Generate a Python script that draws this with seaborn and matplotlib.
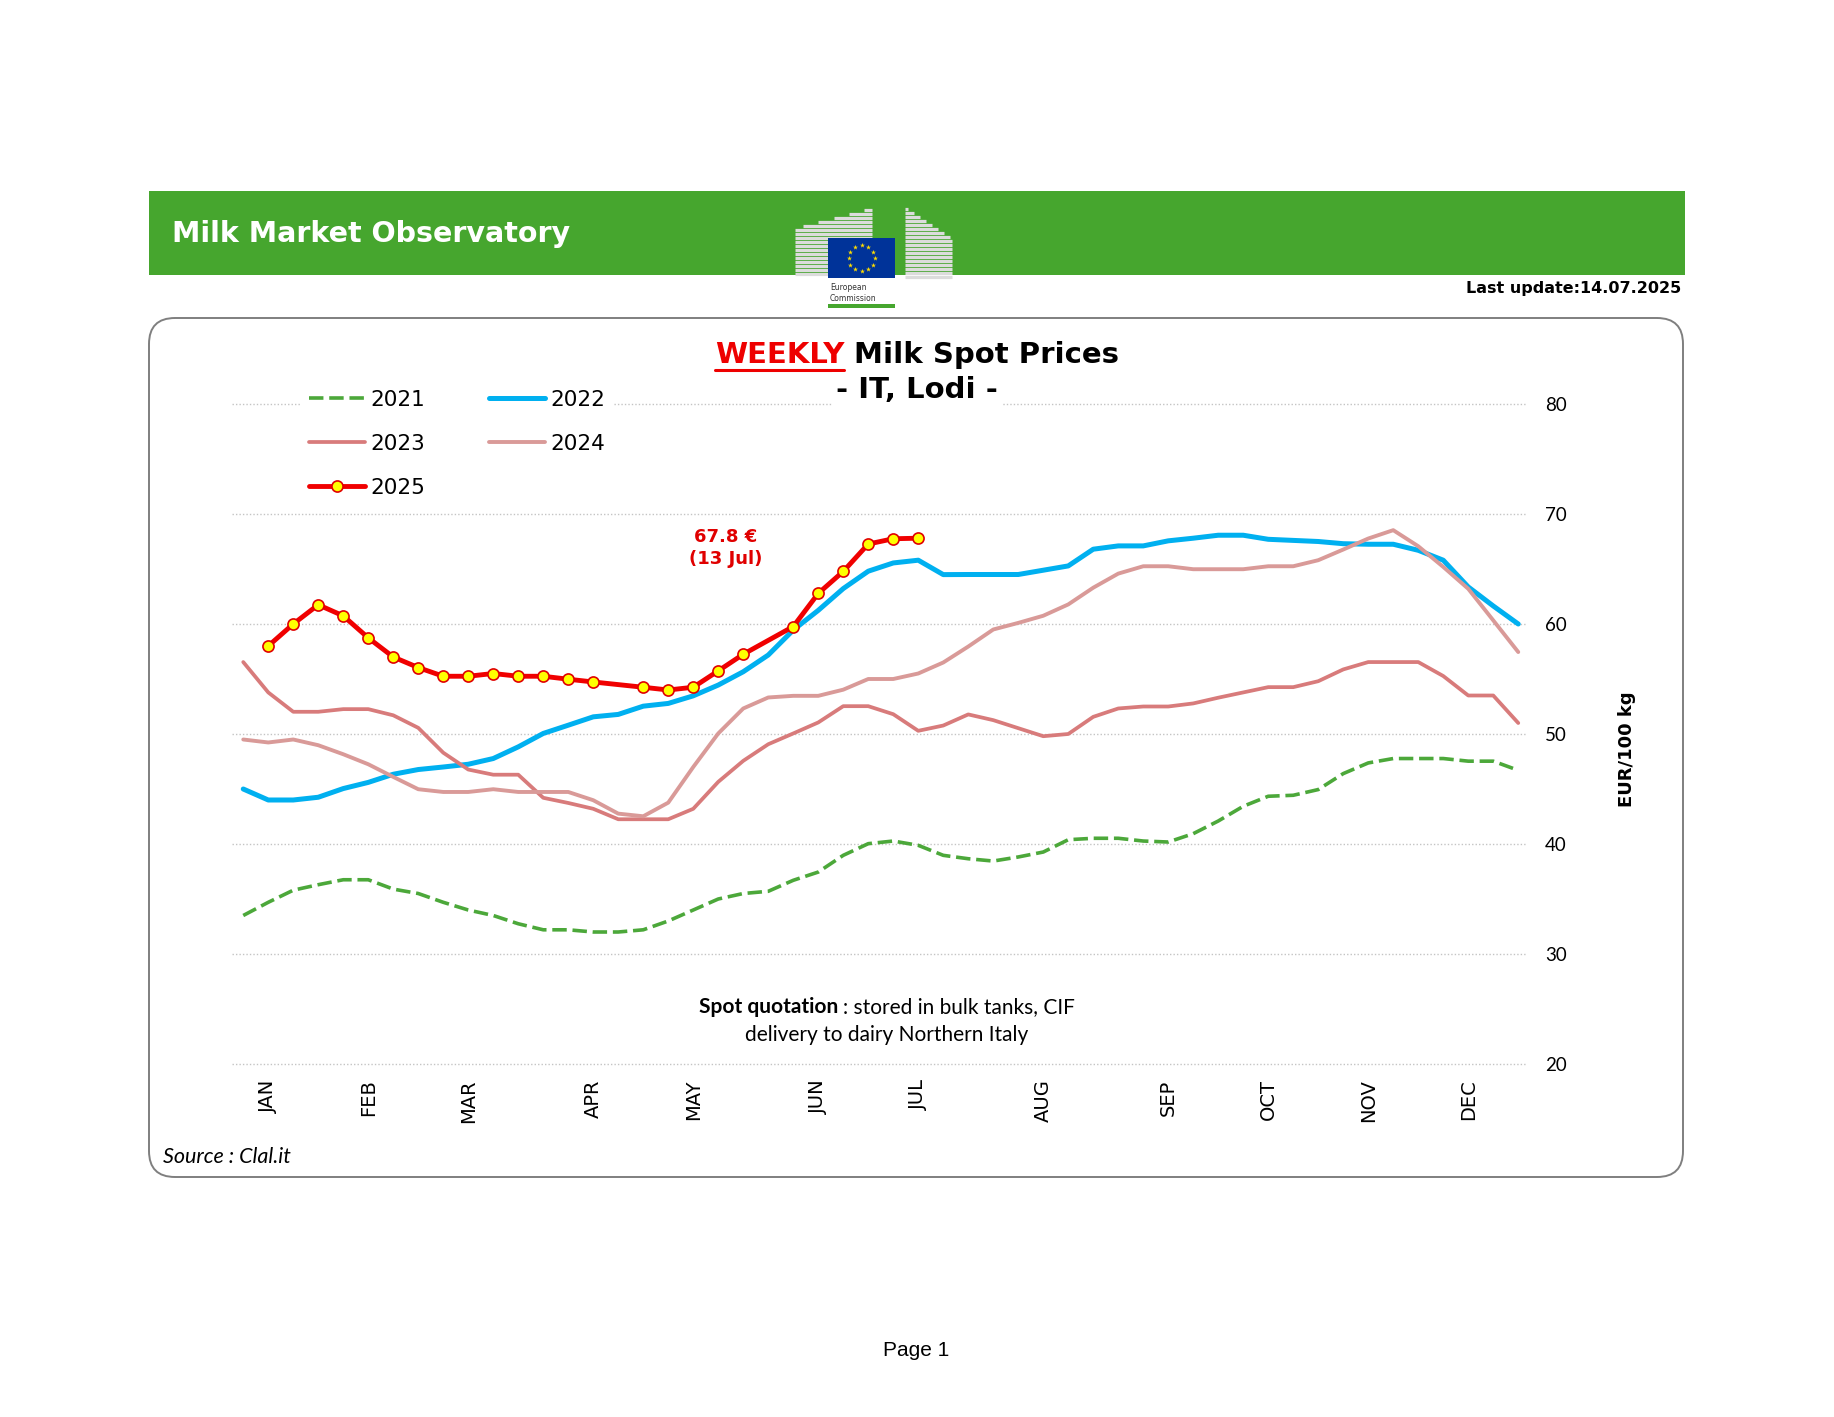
import numpy as np
import pandas as pd
import matplotlib
matplotlib.use("Agg")
import matplotlib.pyplot as plt
import seaborn as sns
from matplotlib.patches import FancyBboxPatch, Rectangle

# ---- data (EUR/100 kg, weekly, week index 0..51) ----
nan = np.nan
weeks = np.arange(52)
months = ['JAN', 'FEB', 'MAR', 'APR', 'MAY', 'JUN', 'JUL', 'AUG', 'SEP', 'OCT', 'NOV', 'DEC']
month_weeks = [1, 5, 9, 14, 18, 23, 27, 32, 37, 41, 45, 49]

p2021 = [33.5, 34.7, 35.8, 36.3, 36.75, 36.75, 35.9, 35.5, 34.7, 34.0, 33.5, 32.75, 32.2,
         32.2, 32.0, 32.0, 32.2, 33.0, 34.0, 35.0, 35.5, 35.7, 36.7, 37.45, 38.97, 40.03,
         40.27, 39.88, 38.97, 38.66, 38.45, 38.82, 39.27, 40.39, 40.52, 40.52, 40.27, 40.18,
         40.94, 42.09, 43.43, 44.34, 44.43, 44.95, 46.4, 47.37, 47.77, 47.77, 47.77, 47.53,
         47.53, 46.7]
p2022 = [45.0, 44.0, 44.0, 44.25, 45.04, 45.6, 46.34, 46.77, 47.0, 47.25, 47.77, 48.83, 50.05,
         50.8, 51.56, 51.78, 52.53, 52.78, 53.47, 54.45, 55.66, 57.18, 59.45, 61.24, 63.22,
         64.8, 65.55, 65.8, 64.49, 64.5, 64.5, 64.5, 64.89, 65.28, 66.8, 67.1, 67.1, 67.56,
         67.8, 68.07, 68.07, 67.7, 67.6, 67.5, 67.3, 67.25, 67.25, 66.7, 65.8, 63.37, 61.64,
         60.0]
p2023 = [56.54, 53.78, 52.02, 52.02, 52.26, 52.26, 51.7, 50.56, 48.3, 46.77, 46.3, 46.3, 44.2,
         43.73, 43.2, 42.25, 42.25, 42.25, 43.2, 45.65, 47.56, 49.07, 50.05, 51.05, 52.53,
         52.53, 51.8, 50.29, 50.77, 51.78, 51.26, 50.53, 49.8, 50.0, 51.56, 52.32, 52.5, 52.5,
         52.78, 53.3, 53.78, 54.26, 54.26, 54.8, 55.87, 56.54, 56.54, 56.54, 55.27, 53.5, 53.5,
         51.0]
p2024 = [49.5, 49.23, 49.5, 48.98, 48.16, 47.25, 46.1, 44.98, 44.73, 44.73, 44.98, 44.73, 44.73,
         44.73, 43.98, 42.76, 42.52, 43.76, 47.0, 50.05, 52.32, 53.32, 53.47, 53.47, 54.03,
         55.0, 55.0, 55.5, 56.5, 57.95, 59.5, 60.1, 60.75, 61.78, 63.3, 64.58, 65.25, 65.25,
         64.98, 64.98, 64.98, 65.25, 65.25, 65.8, 66.77, 67.77, 68.53, 67.07, 65.19, 63.2,
         60.33, 57.45]
p2025 = [nan, 58.0, 60.0, 61.75, 60.74, 58.74, 57.0, 56.04, 55.25, 55.25, 55.5, 55.25, 55.25,
         54.98, 54.73, nan, 54.25, 54.0, 54.25, 55.74, 57.25, nan, 59.77, 62.78, 64.78, 67.27,
         67.75, 67.8] + [nan] * 24

GREEN = '#46A62E'
W, H = 1834, 1417

sns.set_style("white")
plt.rcParams['font.family'] = ['DejaVu Sans']
plt.rcParams['text.color'] = 'black'
plt.rcParams['xtick.color'] = 'black'
plt.rcParams['ytick.color'] = 'black'

fig = plt.figure(figsize=(W / 100, H / 100), dpi=100)
fig.patch.set_facecolor('white')

# background layer in pixel coordinates
bg = fig.add_axes([0, 0, 1, 1], label='bg', zorder=0)
bg.set_xlim(0, W)
bg.set_ylim(H, 0)
bg.axis('off')

bg.add_patch(Rectangle((149, 191), 1536, 84, color=GREEN, lw=0))
bg.text(172, 234, 'Milk Market Observatory', color='white', fontsize=20.5,
        fontweight='bold', va='center', ha='left')
bg.text(1681, 288, 'Last update:14.07.2025', color='black', fontsize=11.5,
        fontweight='bold', va='center', ha='right')

# EC logo (simplified)
for y in np.arange(210, 278, 4):
    x0 = 795 if y >= 228 else 795 + (228 - y) / 20 * 77
    bg.plot([x0, 872], [y, y], color='#dcdcdc', lw=2.3, solid_capstyle='butt')
for y in np.arange(209, 278, 4):
    x1 = 905 + min(1, (y - 207) / 31) * 47
    bg.plot([905, x1], [y, y], color='#dcdcdc', lw=2.3, solid_capstyle='butt')
bg.add_patch(Rectangle((828, 238), 67, 40, color='#003399', lw=0, zorder=3))
ang = np.linspace(0, 2 * np.pi, 13)[:-1]
bg.scatter(861.5 + 13 * np.cos(ang), 258 + 13 * np.sin(ang), marker='*', s=14,
           color='#FFDD00', lw=0, zorder=4)
bg.text(830, 283, 'European\nCommission', fontsize=5.5, color='#333333', va='top',
        ha='left', linespacing=1.3)
bg.add_patch(Rectangle((828, 304), 67, 4, color=GREEN, lw=0))

# rounded chart frame
bg.add_patch(FancyBboxPatch((149, 318), 1534, 859,
                            boxstyle='round,pad=0,rounding_size=26',
                            facecolor='white', edgecolor='#7f7f7f', lw=1.4))

# chart
ax = fig.add_axes([232 / W, 1 - 1064 / H, 1295 / W, 660 / H], label='chart', zorder=1)
ax.set_facecolor('none')

styles = [
    ('2021', p2021, dict(color='#4CA83A', lw=2.6, linestyle=(0, (4, 1.6)))),
    ('2022', p2022, dict(color='#00B0F0', lw=3.6)),
    ('2023', p2023, dict(color='#D87B7B', lw=2.7)),
    ('2024', p2024, dict(color='#D99A98', lw=2.8)),
    ('2025', p2025, dict(color='#F00000', lw=3.5, marker='o', markersize=8,
                         markerfacecolor='#FFFF00', markeredgecolor='#E00000',
                         markeredgewidth=1.2)),
]
for year, vals, kw in styles:
    df = pd.DataFrame({'week': weeks, 'price': vals}).dropna()
    sns.lineplot(data=df, x='week', y='price', ax=ax, label=year, errorbar=None, **kw)

ax.set_xlim(-0.45, 51.35)
ax.set_ylim(20, 80)
ax.set_yticks(range(20, 81, 10))
ax.yaxis.tick_right()
ax.yaxis.grid(True, color='#c4c4c4', linestyle=(0, (1, 1.5)), lw=1)
ax.xaxis.grid(False)
for gl in ax.get_ygridlines():
    gl.set_clip_on(False)
ax.set_xticks(month_weeks)
ax.set_xticklabels(months, rotation=90, fontsize=14)
ax.tick_params(axis='x', length=0, pad=11)
ax.tick_params(axis='y', length=0, pad=13, labelsize=13.5)
for lab in ax.get_yticklabels():
    lab.set_fontfamily('Lato')
ax.set_xlabel('')
ax.set_ylabel('')
for s in ax.spines.values():
    s.set_visible(False)

hs, ls = ax.get_legend_handles_labels()
order = ['2021', '2023', '2025', '2022', '2024']
hs = [hs[ls.index(o)] for o in order]
ax.legend(hs, order, ncol=2, loc='upper left', bbox_to_anchor=(300 / W, 1 - 381 / H),
          bbox_transform=fig.transFigure, frameon=True, facecolor='white',
          edgecolor='none', framealpha=1, fancybox=False, fontsize=15.5,
          handlelength=2.6, handletextpad=0.25, columnspacing=3.0,
          labelspacing=1.12, borderpad=0.4, borderaxespad=0)

# foreground layer for the title and notes
fg = fig.add_axes([0, 0, 1, 1], label='fg', zorder=2)
fg.set_xlim(0, W)
fg.set_ylim(H, 0)
fg.axis('off')

renderer = fig.canvas.get_renderer()


def rich_line(a, xc, y, pieces, gap):
    texts = [a.text(0, y, s, ha='left', va='center', **kw) for s, kw in pieces]
    widths = [t.get_window_extent(renderer).width for t in texts]
    x = xc - (sum(widths) + gap * (len(texts) - 1)) / 2
    for t, w in zip(texts, widths):
        t.set_x(x)
        x += w + gap
    return texts


t_weekly, _ = rich_line(fg, 917, 355,
                        [('WEEKLY', dict(color='#EE0000', fontsize=21, fontweight='bold')),
                         ('Milk Spot Prices', dict(color='black', fontsize=21, fontweight='bold'))],
                        gap=10)
bb = t_weekly.get_window_extent(renderer)
fg.plot([bb.x0, bb.x1], [H - bb.y0 + 1, H - bb.y0 + 1], color='#EE0000', lw=2.2)
fg.text(917, 390, '- IT, Lodi -', fontsize=21, fontweight='bold', ha='center', va='center',
        color='black', bbox=dict(facecolor='white', edgecolor='none', pad=3))

fg.text(726, 548, '67.8 €\n(13 Jul)', color='#E00000', fontsize=13, fontweight='bold',
        ha='center', va='center', linespacing=1.25)

fg.text(1627, 749, 'EUR/100 kg', fontsize=13, fontweight='bold', rotation=90,
        ha='center', va='center')

rich_line(fg, 887, 1007,
          [('Spot quotation', dict(fontsize=15, fontweight='bold', family='Lato')),
           (': stored in bulk tanks, CIF', dict(fontsize=15, family='Lato'))], gap=5)
fg.text(887, 1035, 'delivery to dairy Northern Italy', fontsize=15, family='Lato',
        ha='center', va='center')
fg.text(163, 1157, 'Source : Clal.it', fontsize=15.5, family='Lato', style='italic',
        ha='left', va='center')
fg.text(916, 1350, 'Page 1', fontsize=15, family='Liberation Sans', ha='center', va='center')

fig.savefig('out.png', dpi=100)
